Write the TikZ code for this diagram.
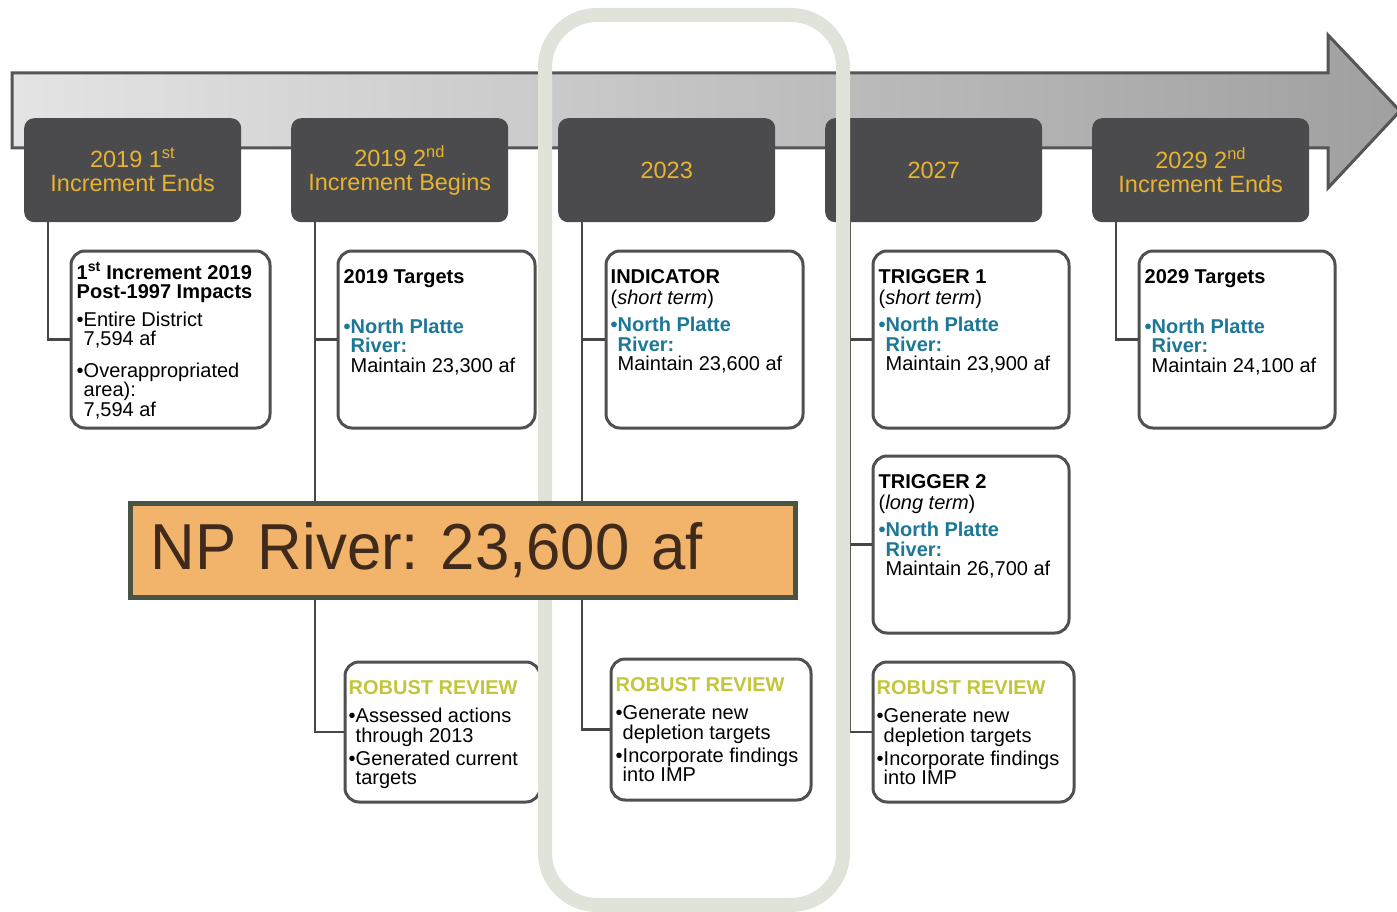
\documentclass[tikz,border=0pt]{standalone}
\usepackage{fontspec}
\setmainfont{Liberation Sans}
\newfontfamily\npfont[FakeStretch=0.95]{Liberation Sans}
\usepackage{tikz}

\definecolor{headgray}{RGB}{75,75,77}
\definecolor{gold}{RGB}{232,180,48}
\definecolor{boxgray}{RGB}{80,80,80}
\definecolor{linkgray}{RGB}{70,70,70}
\definecolor{npblue}{RGB}{28,120,150}
\definecolor{reviewgreen}{RGB}{195,198,58}
\definecolor{hilite}{RGB}{224,227,218}
\definecolor{npfill}{RGB}{242,180,107}
\definecolor{npedge}{RGB}{74,84,68}
\definecolor{nptext}{RGB}{64,42,28}
\definecolor{arrowleft}{RGB}{228,228,228}
\definecolor{arrowright}{RGB}{160,160,160}
\definecolor{arrowedge}{RGB}{85,85,85}

\newcommand{\platte}[1]{\textcolor{npblue}{\textbf{•North Platte}}\\\textcolor{npblue}{\textbf{\phantom{•}River:}}\\\phantom{•}Maintain #1 af}
\newcommand{\review}{\textcolor{reviewgreen}{\textbf{ROBUST REVIEW}}}

\begin{document}
\frenchspacing
\begin{tikzpicture}[x=1pt, y=-1pt,
  headbox/.style={fill=headgray, rounded corners=10pt, minimum width=217pt, minimum height=104pt, inner sep=0pt, anchor=north west, text=gold, align=center, font=\fontsize{23.5}{24}\selectfont},
  infobox/.style={draw=boxgray, line width=3pt, fill=white, rounded corners=14pt, inner sep=0pt, anchor=north west, minimum height=177pt},
  info/.style={anchor=north west, align=left, inner sep=0pt, font=\fontsize{20}{19.5}\selectfont, execute at begin node=\rule{0pt}{15pt}},
  link/.style={draw=linkgray, line width=2.5pt}]
\useasboundingbox (0,0) rectangle (1397,912);
\shadedraw[left color=arrowleft, right color=arrowright, draw=arrowedge, line width=3pt] (12,73) -- (1328,73) -- (1328,35) -- (1400,111) -- (1328,188) -- (1328,148) -- (12,148) -- cycle;

\node[headbox] (inc1end) at (24,118) {2019 1\textsuperscript{st}\\Increment Ends};
\node[headbox] (inc2begin) at (291,118) {2019 2\textsuperscript{nd}\\Increment Begins};
\node[headbox] (y2023) at (558,118) {2023};
\node[headbox] (y2027) at (825,118) {2027};
\node[headbox] (inc2end) at (1092,118) {2029 2\textsuperscript{nd}\\Increment Ends};

\node[infobox, minimum width=199pt] (impacts) at (69.5,249.5) {};
\node[infobox, minimum width=197pt] (targets19) at (336.5,249.5) {};
\node[infobox, minimum width=197pt] (indicator) at (604.5,249.5) {};
\node[infobox, minimum width=196pt] (trigger1) at (871.5,249.5) {};
\node[infobox, minimum width=196pt] (trigger2) at (871.5,454.5) {};
\node[infobox, minimum width=196pt] (targets29) at (1137.5,249.5) {};
\node[infobox, minimum width=195pt, minimum height=140pt] (review19) at (343.5,660.5) {};
\node[infobox, minimum width=200pt, minimum height=141pt] (review23) at (609.5,657.5) {};
\node[infobox, minimum width=201pt, minimum height=140pt] (review27) at (871.5,660.5) {};

\coordinate (c1) at ([xshift=24pt]inc1end.south west);
\coordinate (c2) at ([xshift=24pt]inc2begin.south west);
\coordinate (c3) at ([xshift=24pt]y2023.south west);
\coordinate (c4) at ([xshift=25pt]y2027.south west);
\coordinate (c5) at ([xshift=24pt]inc2end.south west);
\draw[link] (c1) |- (impacts.west);
\draw[link] (c2) |- (review19.west) (c2 |- targets19.west) -- (targets19.west);
\draw[link] (c3) |- (review23.west) (c3 |- indicator.west) -- (indicator.west);
\draw[link] (c4) |- (review27.west) (c4 |- trigger1.west) -- (trigger1.west) (c4 |- trigger2.west) -- (trigger2.west);
\draw[link] (c5) |- (targets29.west);

\node[info] (impactstext) at ([xshift=7pt,yshift=-13pt]impacts.north west) {\textbf{1\textsuperscript{st} Increment 2019}\\\textbf{Post-1997 Impacts}\\[8pt]•Entire District\\\phantom{•}7,594 af\\[12pt]•Overappropriated\\\phantom{•}area):\\\phantom{•}7,594 af};
\node[info] (targets19text) at ([xshift=7pt,yshift=-20pt]targets19.north west) {\textbf{2019 Targets}\\[30pt]\platte{23,300}};
\node[info] (indicatortext) at ([xshift=6pt,yshift=-20pt]indicator.north west) {\textbf{INDICATOR}\\[1.5pt](\textit{short term})\\[7.5pt]\platte{23,600}};
\node[info] (trigger1text) at ([xshift=7pt,yshift=-20pt]trigger1.north west) {\textbf{TRIGGER 1}\\[1.5pt](\textit{short term})\\[7.5pt]\platte{23,900}};
\node[info] (trigger2text) at ([xshift=7pt,yshift=-20pt]trigger2.north west) {\textbf{TRIGGER 2}\\[1.5pt](\textit{long term})\\[7.5pt]\platte{26,700}};
\node[info] (targets29text) at ([xshift=7pt,yshift=-20pt]targets29.north west) {\textbf{2029 Targets}\\[30pt]\platte{24,100}};
\node[info] (review19text) at ([xshift=5pt,yshift=-20pt]review19.north west) {\review\\[8.5pt]•Assessed actions\\\phantom{•}through 2013\\[3.5pt]•Generated current\\\phantom{•}targets};
\node[info] (review23text) at ([xshift=6pt,yshift=-20pt]review23.north west) {\review\\[8.5pt]•Generate new\\\phantom{•}depletion targets\\[3.5pt]•Incorporate findings\\\phantom{•}into IMP};
\node[info] (review27text) at ([xshift=5pt,yshift=-20pt]review27.north west) {\review\\[8.5pt]•Generate new\\\phantom{•}depletion targets\\[3.5pt]•Incorporate findings\\\phantom{•}into IMP};

\draw[hilite, line width=14pt, rounded corners=52pt] (545,15) rectangle (843,905);

\node[draw=npedge, line width=5pt, fill=npfill, text=nptext, minimum width=665pt, minimum height=94pt, text width=625pt, inner xsep=20pt, align=left, font=\npfont\fontsize{65}{65}\selectfont] (npriver) at (463,550.5) {NP River: 23,600 af};
\end{tikzpicture}
\end{document}
